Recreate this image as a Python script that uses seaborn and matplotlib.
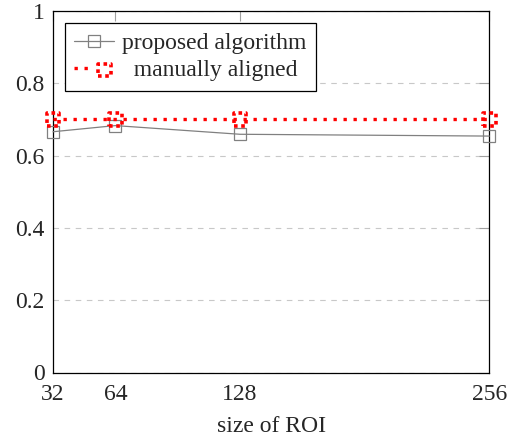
import matplotlib
matplotlib.use("Agg")
import matplotlib.pyplot as plt
import seaborn as sns
import pandas as pd
from matplotlib.legend_handler import HandlerTuple

roi_sizes = [32, 64, 128, 256]
proposed = [0.666, 0.683, 0.659, 0.654]
manual = [0.70, 0.70, 0.70, 0.70]
y_ticks = [0, 0.2, 0.4, 0.6, 0.8, 1]
y_tick_labels = ["0", "0.2", "0.4", "0.6", "0.8", "1"]
x_label = "size of ROI"
series_names = ["proposed algorithm", "manually aligned"]

sns.set_theme(style="white")
plt.rcParams['font.family'] = ['Liberation Serif', 'DejaVu Serif']
plt.rcParams['mathtext.fontset'] = 'stix'

fig = plt.figure(figsize=(5.12, 4.36), dpi=100)
ax = fig.add_axes([53/512, 1-372.5/436, (489.3-53)/512, (372.5-11)/436])

df = pd.DataFrame({"roi": roi_sizes, "proposed": proposed, "manual": manual})

sns.lineplot(data=df, x="roi", y="proposed", ax=ax, color="#808080", lw=0.9,
             marker="s", markersize=9, markerfacecolor="none",
             markeredgecolor="#808080", markeredgewidth=0.9, clip_on=False, zorder=3)
sns.lineplot(data=df, x="roi", y="manual", ax=ax, color="red", lw=2.4,
             linestyle=(0, (1, 2)), clip_on=False, zorder=4)
sc = ax.scatter(df["roi"], df["manual"], marker="s", s=80, facecolors="none",
                edgecolors="red", linewidths=2.6, linestyles=(0, (1, 1)),
                clip_on=False, zorder=5)

ax.set_xlim(32, 256)
ax.set_ylim(0, 1)
ax.set_xticks(roi_sizes)
ax.set_xticklabels([str(v) for v in roi_sizes])
ax.set_yticks(y_ticks)
ax.set_yticklabels(y_tick_labels)
ax.set_xlabel(x_label, fontsize=17, labelpad=8)
ax.set_ylabel("")
ax.tick_params(axis="both", direction="in", length=7, width=0.8, color="#a0a0a0",
               top=True, right=True, labelsize=17)
ax.tick_params(axis="x", pad=8)
ax.tick_params(axis="y", pad=6)
for s in ax.spines.values():
    s.set_color("black")
    s.set_linewidth(0.9)
ax.yaxis.grid(True, linestyle=(0, (5, 5)), color="#c8c8c8", lw=0.8)
ax.xaxis.grid(False)

lines = ax.get_lines()
h1 = lines[0]
h2 = (lines[1], sc)
leg_labels = [series_names[0], "  " + series_names[1]]
leg = ax.legend([h1, h2], leg_labels, loc="upper left", fontsize=17,
                handler_map={tuple: HandlerTuple(ndivide=None, pad=0)},
                frameon=True, fancybox=False, edgecolor="black", framealpha=1,
                borderaxespad=0.5, handlelength=1.7, handletextpad=0.34,
                borderpad=0.4, labelspacing=0.25)
leg.get_frame().set_linewidth(0.9)

fig.savefig("out.png", dpi=100)
